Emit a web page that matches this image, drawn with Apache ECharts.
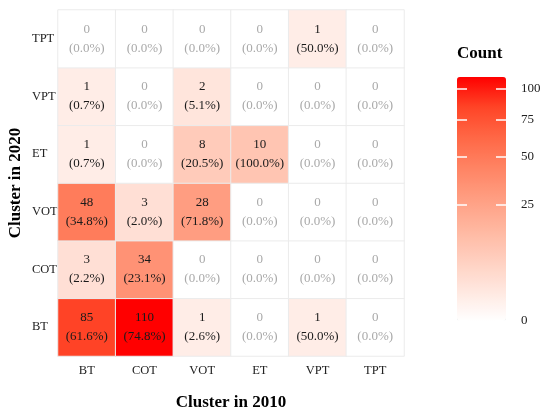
<!DOCTYPE html>
<html>
<head>
<meta charset="utf-8">
<script src="https://cdn.jsdelivr.net/npm/echarts@6/dist/echarts.min.js"></script>
<style>
  html, body { margin: 0; padding: 0; background: #fff; }
  #pic { width: 550px; height: 415px; }
</style>
</head>
<body>
<div id="pic"></div>
<script>
// categories (x = 2010 cluster, y = 2020 cluster, bottom to top)
var xCats = ['BT', 'COT', 'VOT', 'ET', 'VPT', 'TPT'];
var yCats = ['BT', 'COT', 'VOT', 'ET', 'VPT', 'TPT'];

// counts, one row per 2020 cluster (same order as yCats)
var countRows = [
  [85, 110, 1, 0, 1, 0],   // BT
  [3, 34, 0, 0, 0, 0],     // COT
  [48, 3, 28, 0, 0, 0],    // VOT
  [1, 0, 8, 10, 0, 0],     // ET
  [1, 0, 2, 0, 0, 0],      // VPT
  [0, 0, 0, 0, 1, 0]       // TPT
];
// percentages as printed in the cells
var pctRows = [
  [61.6, 74.8, 2.6, 0.0, 50.0, 0.0],
  [2.2, 23.1, 0.0, 0.0, 0.0, 0.0],
  [34.8, 2.0, 71.8, 0.0, 0.0, 0.0],
  [0.7, 0.0, 20.5, 100.0, 0.0, 0.0],
  [0.7, 0.0, 5.1, 0.0, 0.0, 0.0],
  [0.0, 0.0, 0.0, 0.0, 50.0, 0.0]
];
// colour bar (sqrt scale)
var legendTicks = [0, 25, 50, 75, 100];
var legendMax = 110;

var font = 'Liberation Serif';
var cells = [];
for (var r = 0; r < yCats.length; r++) {
  for (var c = 0; c < xCats.length; c++) {
    var n = countRows[r][c];
    cells.push({
      value: [c, r, n, Math.sqrt(n), pctRows[r][c]],
      label: { color: n === 0 ? '#a9a9a9' : '#1a1a1a' }
    });
  }
}
var sqrtTicks = legendTicks.map(function (v) { return Math.sqrt(v); });

var chart = echarts.init(document.getElementById('pic'));
var option = {
  backgroundColor: '#fff',
  animation: false,
  textStyle: { fontFamily: font },
  title: {
    text: 'Count',
    left: 457,
    top: 45,
    padding: 0,
    textStyle: { fontFamily: font, fontSize: 17, fontWeight: 'bold', color: '#000' }
  },
  grid: [
    { left: 58, top: 10, width: 346, height: 346, outerBoundsMode: 'none', containLabel: false },
    { left: 457, top: 77, width: 49, height: 244, outerBoundsMode: 'none', containLabel: false }
  ],
  xAxis: [
    {
      type: 'category',
      data: xCats,
      gridIndex: 0,
      axisLine: { show: false },
      axisTick: { show: false },
      splitLine: { show: false },
      axisLabel: { fontFamily: font, fontSize: 12.5, color: '#222', margin: 8 },
      name: 'Cluster in 2010',
      nameLocation: 'middle',
      nameGap: 38,
      nameMoveOverlap: false,
      nameTextStyle: { fontFamily: font, fontSize: 17, fontWeight: 'bold', color: '#000' }
    },
    { type: 'value', gridIndex: 1, show: false, min: 0, max: 1 }
  ],
  yAxis: [
    {
      type: 'category',
      data: yCats,
      gridIndex: 0,
      axisLine: { show: false },
      axisTick: { show: false },
      splitLine: { show: false },
      axisLabel: { fontFamily: font, fontSize: 12.5, color: '#222', margin: 26, align: 'left' },
      name: 'Cluster in 2020',
      nameLocation: 'middle',
      nameGap: 34,
      nameMoveOverlap: false,
      nameTextStyle: { fontFamily: font, fontSize: 17, fontWeight: 'bold', color: '#000' }
    },
    {
      type: 'value',
      gridIndex: 1,
      position: 'right',
      min: 0,
      max: Math.sqrt(legendMax),
      z: 10,
      axisLine: { show: false, onZero: false },
      splitLine: { show: false },
      axisTick: {
        show: true, inside: true, length: 10,
        customValues: sqrtTicks,
        lineStyle: { color: '#fff', width: 1.5 }
      },
      axisLabel: {
        customValues: sqrtTicks,
        margin: 15,
        fontFamily: font, fontSize: 13, color: '#222',
        formatter: function (v) { return Math.round(v * v); }
      }
    },
    {
      type: 'value',
      gridIndex: 1,
      position: 'left',
      min: 0,
      max: Math.sqrt(legendMax),
      z: 10,
      axisLine: { show: false, onZero: false },
      splitLine: { show: false },
      axisLabel: { show: false },
      axisTick: {
        show: true, inside: true, length: 10,
        customValues: sqrtTicks,
        lineStyle: { color: '#fff', width: 1.5 }
      }
    }
  ],
  visualMap: {
    type: 'continuous',
    min: 0,
    max: Math.sqrt(legendMax),
    dimension: 3,
    seriesIndex: 0,
    calculable: false,
    left: 457,
    top: 77,
    padding: 0,
    itemWidth: 49,
    itemHeight: 244,
    text: null,
    inRange: { color: ['#ffffff', '#ffe7df', '#ffcfbf', '#ffb7a0', '#ff9e82', '#ff8464', '#ff6846', '#ff4527', '#ff0000'] }
  },
  series: [
    {
      type: 'heatmap',
      xAxisIndex: 0,
      yAxisIndex: 0,
      data: cells,
      itemStyle: { borderColor: '#ebebeb', borderWidth: 1 },
      label: {
        show: true,
        fontFamily: font,
        fontSize: 13,
        lineHeight: 19,
        formatter: function (p) {
          return p.value[2] + '\n(' + p.value[4].toFixed(1) + '%)';
        }
      },
      emphasis: { disabled: true }
    }
  ]
};
chart.setOption(option);
</script>
</body>
</html>
